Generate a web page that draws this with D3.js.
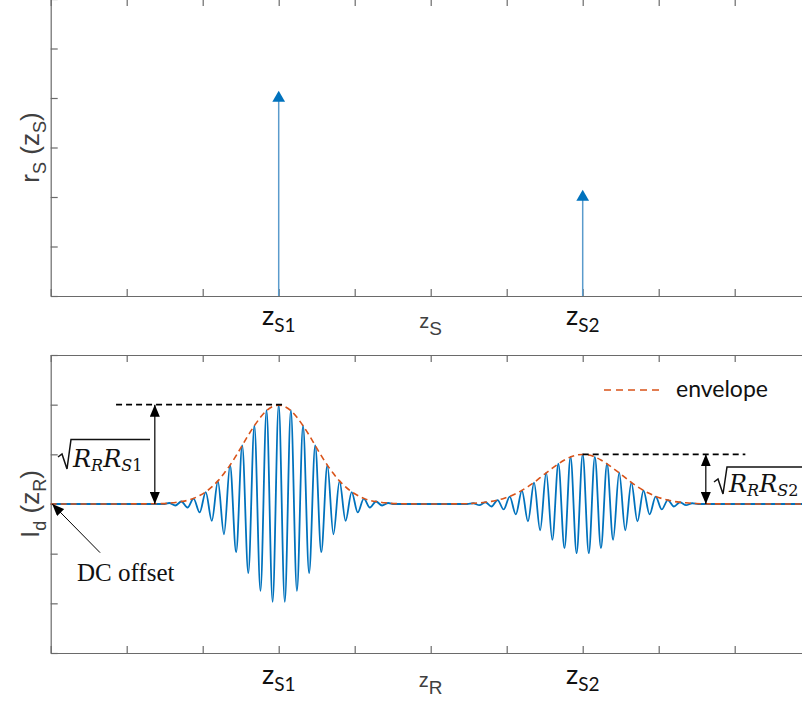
<!DOCTYPE html>
<html>
<head>
<meta charset="utf-8">
<script src="https://cdn.jsdelivr.net/npm/d3@7"></script>
<style>
  body { margin: 0; background: #fff; }
  svg { display: block; }
</style>
</head>
<body>
<svg id="chart" width="802" height="704"></svg>
<script>
// Reflectors along the sample depth axis and their reflectivity r_S
const reflectorNames = ["S1", "S2"];
const reflectorZ = [3, 7];
const reflectorR = [4, 2];

// Axis ticks (unlabelled except at the reflector positions)
const xTicks = [0, 1, 2, 3, 4, 5, 6, 7, 8, 9, 10];
const yTicksTop = [0, 1, 2, 3, 4, 5, 6];
const yTicksBottom = [-3, -2, -1, 0, 1, 2, 3];

// Interferogram: spacing between successive fringe extrema (in z_R units)
// and |I_d| at each extremum, from the packet centre outwards
const fringeStep = 0.08;
const fringeAmpS1 = [2.00, 1.97, 1.89, 1.75, 1.58, 1.39, 1.18, 0.97, 0.78, 0.61,
                     0.46, 0.34, 0.24, 0.17, 0.11, 0.07, 0.05, 0.03, 0.02];
const fringeAmpS2 = [1.00, 0.99, 0.95, 0.89, 0.81, 0.72, 0.63, 0.53, 0.43, 0.35,
                     0.27, 0.21, 0.15, 0.11, 0.08, 0.05, 0.035, 0.023, 0.015];
const fringeAmps = [fringeAmpS1, fringeAmpS2];

// Peak heights sqrt(R_R R_S) marked with arrows, and where the marks sit
const peakHeights = [2, 1];
const peakGuideFrom = [0.86, 7.0];
const peakGuideTo = [3.05, 9.14];
const peakArrowZ = [1.37, 8.62];

const svg = d3.select("#chart");

const x = d3.scaleLinear().domain([0, 10]).range([50.7, 810.7]);
const yTop = d3.scaleLinear().domain([0, 6]).range([296, -1]);
const yBot = d3.scaleLinear().domain([-3, 3]).range([653, 355]);

const axisColor = "#6a6a6a";
const blue = "#0072BD";
const orange = "#D95319";
const tickLen = 7;

// ---- arrowhead marker ----
const defs = svg.append("defs");
defs.append("marker")
  .attr("id", "head")
  .attr("markerUnits", "userSpaceOnUse")
  .attr("viewBox", "0 -5 12 10")
  .attr("refX", 12).attr("refY", 0)
  .attr("markerWidth", 12).attr("markerHeight", 10)
  .attr("orient", "auto-start-reverse")
  .append("path").attr("d", "M0,-5L12,0L0,5Z").attr("fill", "#000");

// ---- box axes with inward ticks ----
function boxAxes(y, yTicks) {
  const [y0, y1] = y.range();
  const g = svg.append("g");
  g.append("g").attr("transform", `translate(0,${y0})`)
    .call(d3.axisBottom(x).tickValues(xTicks).tickSizeInner(-tickLen).tickSizeOuter(0).tickFormat(""));
  g.append("g").attr("transform", `translate(0,${y1})`)
    .call(d3.axisTop(x).tickValues(xTicks).tickSizeInner(-tickLen).tickSizeOuter(0).tickFormat(""));
  g.append("g").attr("transform", `translate(${x.range()[0]},0)`)
    .call(d3.axisLeft(y).tickValues(yTicks).tickSizeInner(-tickLen).tickSizeOuter(0).tickFormat(""));
  g.append("g").attr("transform", `translate(${x.range()[1]},0)`)
    .call(d3.axisRight(y).tickValues(yTicks).tickSizeInner(-tickLen).tickSizeOuter(0).tickFormat(""));
  g.selectAll("path.domain").attr("stroke", axisColor).attr("stroke-width", 1.2);
  g.selectAll(".tick line").attr("stroke", axisColor).attr("stroke-width", 1.2);
  return g;
}
boxAxes(yTop, yTicksTop);
boxAxes(yBot, yTicksBottom);

// ---- reflector tick labels z_S1, z_S2 ----
function reflectorLabels(baseY) {
  reflectorZ.forEach((z, i) => {
    const t = svg.append("text")
      .attr("x", x(z)).attr("y", baseY)
      .attr("text-anchor", "middle")
      .attr("font-family", "Lato, 'Open Sans', sans-serif")
      .attr("fill", "#111");
    t.append("tspan").attr("font-size", 27).text("z");
    t.append("tspan").attr("font-size", 19).attr("dy", 7).text(reflectorNames[i]);
  });
}
reflectorLabels(yTop(0) + 29);
reflectorLabels(yBot(-3) + 31);

// ---- axis labels (subscripted) ----
function axisLabel(parts, tx, ty, rotate, size, subSize, shift) {
  const t = svg.append("text")
    .attr("transform", `translate(${tx},${ty})` + (rotate ? " rotate(-90)" : ""))
    .attr("text-anchor", "middle")
    .attr("font-family", "'Liberation Sans', Arial, sans-serif")
    .attr("fill", "#404040");
  let shifted = false;
  parts.forEach(([txt, sub]) => {
    const s = t.append("tspan").text(txt).attr("font-size", sub ? subSize : size);
    if (sub && !shifted) { s.attr("dy", shift); shifted = true; }
    else if (!sub && shifted) { s.attr("dy", -shift); shifted = false; }
  });
}
axisLabel([["z", 0], ["S", 1]], x(5), yTop(0) + 32, false, 20, 19, 7);
axisLabel([["z", 0], ["R", 1]], x(5), yBot(-3) + 34, false, 20, 19, 7);
axisLabel([["r", 0], ["S", 1], [" (", 0], ["z", 0], ["S", 1], [")", 0]], 39, yTop(3), true, 26, 18, 7);
axisLabel([["I", 0], ["d", 1], [" (", 0], ["z", 0], ["R", 1], [")", 0]], 39, yBot(0), true, 26, 18, 7);

// ---- top panel: reflectivity stems ----
const stems = svg.append("g");
reflectorZ.forEach((z, i) => {
  stems.append("line")
    .attr("x1", x(z)).attr("x2", x(z))
    .attr("y1", yTop(0)).attr("y2", yTop(reflectorR[i]))
    .attr("stroke", "#5a9bcc").attr("stroke-width", 1.5);
  stems.append("path")
    .attr("transform", `translate(${x(z)},${yTop(reflectorR[i])})`)
    .attr("d", d3.symbol(d3.symbolTriangle, 70)())
    .attr("fill", blue);
});

// ---- bottom panel: interferogram and envelope ----
const signal = [[0, 0]];
const envelope = [[0, 0]];
reflectorZ.forEach((z0, i) => {
  const amps = fringeAmps[i];
  const n = amps.length;
  signal.push([z0 - n * fringeStep, 0]);
  envelope.push([z0 - n * fringeStep, 0]);
  for (let k = -(n - 1); k <= n - 1; k++) {
    const a = amps[Math.abs(k)];
    const zk = z0 + k * fringeStep;
    signal.push([zk, Math.abs(k) % 2 === 0 ? a : -a]);
    envelope.push([zk, a]);
  }
  signal.push([z0 + n * fringeStep, 0]);
  envelope.push([z0 + n * fringeStep, 0]);
});
signal.push([10, 0]);
envelope.push([10, 0]);

svg.append("path").datum(signal)
  .attr("d", d3.line().x(d => x(d[0])).y(d => yBot(d[1])).curve(d3.curveMonotoneX))
  .attr("fill", "none").attr("stroke", blue).attr("stroke-width", 1.8);

svg.append("path").datum(envelope)
  .attr("d", d3.line().x(d => x(d[0])).y(d => yBot(d[1])).curve(d3.curveBasis))
  .attr("fill", "none").attr("stroke", orange).attr("stroke-width", 1.6)
  .attr("stroke-dasharray", "6,4");

// ---- peak height annotations ----
peakHeights.forEach((h, i) => {
  svg.append("line")
    .attr("x1", x(peakGuideFrom[i])).attr("x2", x(peakGuideTo[i]))
    .attr("y1", yBot(h)).attr("y2", yBot(h))
    .attr("stroke", "#000").attr("stroke-width", 1.6).attr("stroke-dasharray", "6,4");
  svg.append("line")
    .attr("x1", x(peakArrowZ[i])).attr("x2", x(peakArrowZ[i]))
    .attr("y1", yBot(0)).attr("y2", yBot(h))
    .attr("stroke", "#000").attr("stroke-width", 1.2)
    .attr("marker-start", "url(#head)").attr("marker-end", "url(#head)");
});

// sqrt(R_R R_Sn) labels: radical sign with vinculum over the product
function sqrtLabel(name, rx, baseY, barY) {
  const g = svg.append("g");
  g.append("path")
    .attr("d", `M${rx},${baseY - 10} L${rx + 4},${baseY - 13} L${rx + 9},${baseY + 2} L${rx + 13},${barY} L${rx + 92},${barY}`)
    .attr("fill", "none").attr("stroke", "#111").attr("stroke-width", 1.5)
    .attr("stroke-linejoin", "miter");
  const t = g.append("text").attr("x", rx + 15).attr("y", baseY)
    .attr("font-family", "'DejaVu Serif', 'Liberation Serif', serif")
    .attr("font-style", "italic").attr("fill", "#111");
  t.append("tspan").attr("font-size", 24).text("R");
  t.append("tspan").attr("font-size", 16).attr("dy", 4).text("R");
  t.append("tspan").attr("font-size", 24).attr("dy", -4).text("R");
  t.append("tspan").attr("font-size", 16).attr("dy", 4).text("S");
  t.append("tspan").attr("font-size", 16).attr("font-style", "normal").text(name.slice(1));
}
sqrtLabel("S1", 58, 467, 439.5);
sqrtLabel("S2", 714, 492, 467);

// DC offset callout
svg.append("line")
  .attr("x1", x(0.65)).attr("y1", yBot(-0.98))
  .attr("x2", x(0.02)).attr("y2", yBot(0))
  .attr("stroke", "#000").attr("stroke-width", 1)
  .attr("marker-end", "url(#head)");
svg.append("text")
  .attr("x", 77).attr("y", 581)
  .attr("font-family", "'Liberation Serif', 'Times New Roman', serif")
  .attr("font-size", 25).attr("fill", "#111")
  .text("DC offset");

// legend
svg.append("line")
  .attr("x1", 604).attr("x2", 662).attr("y1", 390).attr("y2", 390)
  .attr("stroke", orange).attr("stroke-width", 1.6).attr("stroke-dasharray", "7,5");
svg.append("text")
  .attr("x", 676).attr("y", 397)
  .attr("font-family", "Lato, 'Open Sans', sans-serif")
  .attr("font-size", 23).attr("fill", "#111")
  .text("envelope");
</script>
</body>
</html>
